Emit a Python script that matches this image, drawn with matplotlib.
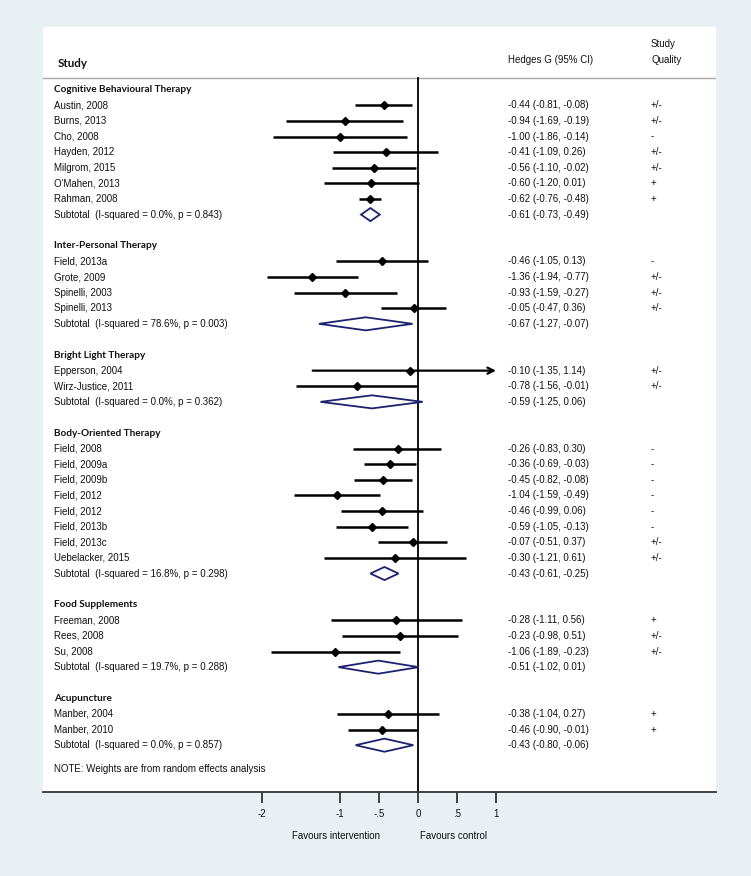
import matplotlib.pyplot as plt
import numpy as np

# Gruppen
groups = ["Cognitive Behavioural Therapy", "Inter-Personal Therapy", "Bright Light Therapy",
          "Body-Oriented Therapy", "Food Supplements", "Acupuncture"]

# Studien (Gruppenindex, Name, Effekt, untere / obere Grenze, Qualitaet)
study_group = [0, 0, 0, 0, 0, 0, 0,
               1, 1, 1, 1,
               2, 2,
               3, 3, 3, 3, 3, 3, 3, 3,
               4, 4, 4,
               5, 5]
study_names = ["Austin, 2008", "Burns, 2013", "Cho, 2008", "Hayden, 2012", "Milgrom, 2015",
               "O'Mahen, 2013", "Rahman, 2008",
               "Field, 2013a", "Grote, 2009", "Spinelli, 2003", "Spinelli, 2013",
               "Epperson, 2004", "Wirz-Justice, 2011",
               "Field, 2008", "Field, 2009a", "Field, 2009b", "Field, 2012", "Field, 2012",
               "Field, 2013b", "Field, 2013c", "Uebelacker, 2015",
               "Freeman, 2008", "Rees, 2008", "Su, 2008",
               "Manber, 2004", "Manber, 2010"]
study_es = [-0.44, -0.94, -1.00, -0.41, -0.56, -0.60, -0.62,
            -0.46, -1.36, -0.93, -0.05,
            -0.10, -0.78,
            -0.26, -0.36, -0.45, -1.04, -0.46, -0.59, -0.07, -0.30,
            -0.28, -0.23, -1.06,
            -0.38, -0.46]
study_lo = [-0.81, -1.69, -1.86, -1.09, -1.10, -1.20, -0.76,
            -1.05, -1.94, -1.59, -0.47,
            -1.35, -1.56,
            -0.83, -0.69, -0.82, -1.59, -0.99, -1.05, -0.51, -1.21,
            -1.11, -0.98, -1.89,
            -1.04, -0.90]
study_hi = [-0.08, -0.19, -0.14, 0.26, -0.02, 0.01, -0.48,
            0.13, -0.77, -0.27, 0.36,
            1.14, -0.01,
            0.30, -0.03, -0.08, -0.49, 0.06, -0.13, 0.37, 0.61,
            0.56, 0.51, -0.23,
            0.27, -0.01]
study_quality = ["+/-", "+/-", "-", "+/-", "+/-", "+", "+",
                 "-", "+/-", "+/-", "+/-",
                 "+/-", "+/-",
                 "-", "-", "-", "-", "-", "-", "+/-", "+/-",
                 "+", "+/-", "+/-",
                 "+", "+"]

# Subtotals pro Gruppe
sub_i2 = ["0.0%", "78.6%", "0.0%", "16.8%", "19.7%", "0.0%"]
sub_p = ["0.843", "0.003", "0.362", "0.298", "0.288", "0.857"]
sub_es = [-0.61, -0.67, -0.59, -0.43, -0.51, -0.43]
sub_lo = [-0.73, -1.27, -1.25, -0.61, -1.02, -0.80]
sub_hi = [-0.49, -0.07, 0.06, -0.25, 0.01, -0.06]

# Achse
tick_vals = [-2, -1, -0.5, 0, 0.5, 1]
tick_labels = ["-2", "-1", "-.5", "0", ".5", "1"]

# Layout (Pixel -> Daten)
bg = "#e8f0f3"
navy = "#1b226e"
txt = "#111111"
x0px, upx = 418, 78.0
def px2x(px):
    return (px - x0px) / upx

reg = ["Liberation Sans", "DejaVu Sans"]
bold = ["Lato", "DejaVu Sans"]
fs = 7.0

fig = plt.figure(figsize=(7.51, 8.76), dpi=100, facecolor=bg)
ax = fig.add_axes([43 / 751, 84 / 876, 673 / 751, 765 / 876])
ax.set_facecolor("white")
ax.set_xlim(px2x(43), px2x(716))
ax.set_ylim(44, -5.02)

for s in ["top", "left", "right"]:
    ax.spines[s].set_visible(False)
ax.spines["bottom"].set_color("#333333")
ax.spines["bottom"].set_linewidth(1.3)
ax.set_yticks([])
ax.set_xticks(tick_vals)
ax.set_xticklabels(tick_labels, family=reg, fontsize=fs, color=txt)
ax.tick_params(axis="x", length=8, width=1.3, color="#333333", pad=4)

xname = px2x(54)
xes = px2x(508)
xq = px2x(651)
xcap = max(tick_vals)

# Kopfzeile
ax.text(px2x(58), -2.7, "Study", family=bold, fontweight="bold", fontsize=8.4, va="center", color=txt)
ax.text(xes, -2.9, "Hedges G (95% CI)", family=reg, fontsize=fs, va="center", color=txt)
ax.text(xq, -2.9, "Quality", family=reg, fontsize=fs, va="center", color=txt)
ax.text(xq, -3.93, "Study", family=reg, fontsize=fs, va="center", color=txt)
ax.axhline(-1.75, color="#a8a8a8", lw=1)

row = -1
study_group = np.array(study_group)
for g, gname in enumerate(groups):
    ax.text(xname, row, gname, family=bold, fontweight="bold", fontsize=7.2, va="center", color=txt)
    row += 1
    for i in np.where(study_group == g)[0]:
        es, lo, hi = study_es[i], study_lo[i], study_hi[i]
        if hi > xcap:
            ax.annotate("", xy=(xcap, row), xytext=(lo, row),
                        arrowprops=dict(arrowstyle="->", lw=1.6, color="black",
                                        mutation_scale=11, shrinkA=0, shrinkB=0))
        else:
            ax.plot([lo, hi], [row, row], color="black", lw=1.8, solid_capstyle="butt")
        ax.plot(es, row, "D", color="black", ms=4.3)
        ax.text(xname, row, study_names[i], family=reg, fontsize=fs, va="center", color=txt)
        ax.text(xes, row, f"{es:.2f} ({lo:.2f}, {hi:.2f})", family=reg, fontsize=fs,
                va="center", color=txt)
        ax.text(xq, row, study_quality[i], family=reg, fontsize=fs, va="center", color=txt)
        row += 1
    h = 0.42
    ax.fill([sub_lo[g], sub_es[g], sub_hi[g], sub_es[g]], [row, row - h, row, row + h],
            facecolor="white", edgecolor=navy, lw=1.3, zorder=3)
    ax.text(xname, row, f"Subtotal  (I-squared = {sub_i2[g]}, p = {sub_p[g]})",
            family=reg, fontsize=fs, va="center", color=txt)
    ax.text(xes, row, f"{sub_es[g]:.2f} ({sub_lo[g]:.2f}, {sub_hi[g]:.2f})",
            family=reg, fontsize=fs, va="center", color=txt)
    last_sub = row
    row += 2

ax.text(xname, last_sub + 1.5, "NOTE: Weights are from random effects analysis",
        family=reg, fontsize=fs, va="center", color=txt)

# Nulllinie
ax.plot([0, 0], [-1.75, 44], color="black", lw=1.3, zorder=2, clip_on=False)

# Beschriftung unten
ax.text(px2x(336), 46.8, "Favours intervention", family=reg, fontsize=fs, ha="center",
        va="center", color=txt)
ax.text(px2x(454), 46.8, "Favours control", family=reg, fontsize=fs, ha="center",
        va="center", color=txt)

fig.savefig("out.png", dpi=100, facecolor=bg)
